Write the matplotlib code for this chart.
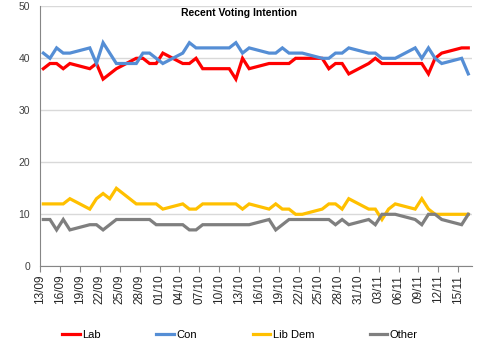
import datetime as dt

import matplotlib

matplotlib.use('Agg')
import matplotlib.pyplot as plt
import numpy as np

plt.rcParams['font.family'] = ['Liberation Sans', 'DejaVu Sans']

# poll dates (dd/mm) and the share for each party
poll_dates = ['13/09', '14/09', '15/09', '16/09', '17/09', '20/09', '21/09', '22/09', '23/09', '24/09',
              '27/09', '28/09', '29/09', '30/09', '01/10', '04/10', '05/10', '06/10', '07/10', '08/10',
              '09/10', '10/10', '11/10', '12/10', '13/10', '14/10', '17/10', '18/10', '19/10', '20/10',
              '21/10', '22/10', '25/10', '26/10', '27/10', '28/10', '29/10', '01/11', '02/11', '03/11',
              '04/11', '05/11', '08/11', '09/11', '10/11', '11/11', '12/11', '15/11', '16/11']
lab = [38, 39, 39, 38, 39, 38, 39, 36, 37, 38,
       40, 40, 39, 39, 41, 39, 39, 40, 38, 38,
       38, 38, 38, 36, 40, 38, 39, 39, 39, 39,
       40, 40, 40, 38, 39, 39, 37, 39, 40, 39,
       39, 39, 39, 39, 37, 40, 41, 42, 42]
con = [41, 40, 42, 41, 41, 42, 39, 43, 41, 39,
       39, 41, 41, 40, 39, 41, 43, 42, 42, 42,
       42, 42, 42, 43, 41, 42, 41, 41, 42, 41,
       41, 41, 40, 40, 41, 41, 42, 41, 41, 40,
       40, 40, 42, 40, 42, 40, 39, 40, 37]
libdem = [12, 12, 12, 12, 13, 11, 13, 14, 13, 15,
          12, 12, 12, 12, 11, 12, 11, 11, 12, 12,
          12, 12, 12, 12, 11, 12, 11, 12, 11, 11,
          10, 10, 11, 12, 12, 11, 13, 11, 11, 9,
          11, 12, 11, 13, 11, 10, 10, 10, 10]
other = [9, 9, 7, 9, 7, 8, 8, 7, 8, 9,
         9, 9, 9, 8, 8, 8, 7, 7, 8, 8,
         8, 8, 8, 8, 8, 8, 9, 7, 8, 9,
         9, 9, 9, 9, 8, 9, 8, 9, 8, 10,
         10, 10, 9, 8, 10, 10, 9, 8, 10]

tick_labels = ['13/09', '16/09', '19/09', '22/09', '25/09', '28/09', '01/10', '04/10', '07/10', '10/10',
               '13/10', '16/10', '19/10', '22/10', '25/10', '28/10', '31/10', '03/11', '06/11', '09/11',
               '12/11', '15/11']

start = dt.date(2011, 9, 13)


def day_no(s):
    d, m = s.split('/')
    return (dt.date(2011, int(m), int(d)) - start).days


x = np.array([day_no(s) for s in poll_dates])
xt = np.array([day_no(s) for s in tick_labels]) - 0.5

fig = plt.figure(figsize=(4.8, 3.49), dpi=100)
ax = fig.add_axes([40 / 480, 1 - 266.3 / 349, 431.6 / 480, 260 / 349])

series = [('Lab', lab, '#FF0000'), ('Con', con, '#558ED5'),
          ('Lib Dem', libdem, '#FFC000'), ('Other', other, '#7F7F7F')]
handles = []
for name, vals, col in series:
    h, = ax.plot(x, vals, color=col, lw=2.3, solid_joinstyle='miter', label=name, zorder=3)
    handles.append(h)

ax.set_xlim(-0.5, x.max() + 0.5)
ax.set_ylim(0, 50)
ax.set_yticks(range(0, 51, 10))
ax.yaxis.grid(True, color='#D9D9D9', lw=1)
ax.set_axisbelow(True)
ax.set_xticks(xt)
ax.set_xticklabels(tick_labels, rotation=90, fontsize=8.5, color='#262626')
ax.tick_params(axis='x', length=4, color='#868686', pad=2)
ax.tick_params(axis='y', length=0, labelsize=7.5, labelcolor='#404040', pad=7)
for s in ['top', 'right']:
    ax.spines[s].set_visible(False)
ax.spines['left'].set_color('#868686')
ax.spines['bottom'].set_color('#868686')

fig.text(239 / 480, 1 - 12.7 / 349, 'Recent Voting Intention', ha='center', va='center',
         fontsize=7.5, fontweight='bold')

fig.legend(handles, [s[0] for s in series], loc='center', bbox_to_anchor=(240 / 480, 14 / 349),
           ncol=4, frameon=False, fontsize=8, handlelength=1.6, handletextpad=0.2, columnspacing=5.0)

fig.savefig('out.png', dpi=100)
